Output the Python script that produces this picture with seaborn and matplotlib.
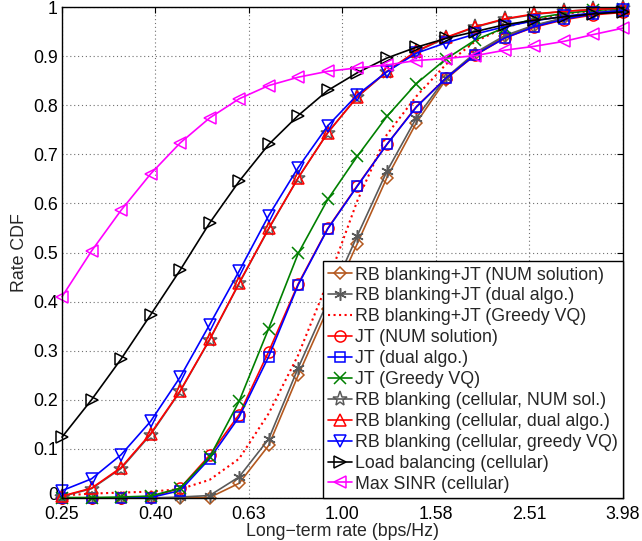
import numpy as np
import pandas as pd
import matplotlib
matplotlib.use("Agg")
import matplotlib.pyplot as plt
import matplotlib.transforms as mtransforms
import seaborn as sns

# ---------------- data ----------------
rate = [0.2512, 0.2905, 0.3360, 0.3886, 0.4494, 0.5197, 0.6010, 0.6951, 0.8039, 0.9298,
        1.0755, 1.2439, 1.4385, 1.6638, 1.9243, 2.2253, 2.5736, 2.9764, 3.4423, 3.9811]

rbjt_num = [0.0, 0.0, 0.0, 0.0, 0.0, 0.001, 0.030, 0.107, 0.250, 0.385,
            0.518, 0.652, 0.764, 0.852, 0.905, 0.940, 0.962, 0.977, 0.987, 0.993]
rbjt_dual = [0.0, 0.0, 0.0, 0.0, 0.002, 0.005, 0.043, 0.120, 0.265, 0.400,
             0.534, 0.665, 0.774, 0.856, 0.907, 0.942, 0.963, 0.978, 0.988, 0.994]
rbjt_greedy = [0.005, 0.009, 0.011, 0.013, 0.018, 0.037, 0.080, 0.172, 0.291, 0.440,
               0.605, 0.740, 0.818, 0.883, 0.930, 0.958, 0.975, 0.986, 0.992, 0.996]
jt_num = [0.0, 0.0, 0.0, 0.002, 0.020, 0.087, 0.170, 0.298, 0.436, 0.549,
          0.636, 0.720, 0.797, 0.855, 0.902, 0.937, 0.959, 0.974, 0.984, 0.989]
jt_dual = [0.0, 0.0, 0.0, 0.001, 0.015, 0.080, 0.165, 0.288, 0.434, 0.548,
           0.635, 0.720, 0.796, 0.855, 0.903, 0.937, 0.960, 0.975, 0.986, 0.992]
jt_greedy = [0.001, 0.001, 0.002, 0.004, 0.020, 0.083, 0.197, 0.345, 0.498, 0.608,
             0.696, 0.777, 0.844, 0.894, 0.933, 0.958, 0.977, 0.987, 0.993, 0.996]
rb_num = [0.003, 0.019, 0.060, 0.129, 0.217, 0.322, 0.437, 0.548, 0.652, 0.744,
          0.817, 0.868, 0.909, 0.937, 0.959, 0.975, 0.985, 0.991, 0.995, 0.998]
rb_dual = [0.004, 0.020, 0.062, 0.131, 0.218, 0.323, 0.438, 0.549, 0.652, 0.744,
           0.817, 0.869, 0.910, 0.938, 0.960, 0.976, 0.986, 0.991, 0.995, 0.998]
rb_greedy = [0.015, 0.039, 0.088, 0.156, 0.246, 0.353, 0.462, 0.575, 0.673, 0.758,
             0.821, 0.868, 0.906, 0.927, 0.945, 0.960, 0.972, 0.981, 0.988, 0.993]
load_bal = [0.124, 0.200, 0.283, 0.373, 0.464, 0.560, 0.645, 0.720, 0.779, 0.830,
            0.866, 0.896, 0.918, 0.936, 0.950, 0.964, 0.973, 0.980, 0.986, 0.990]
max_sinr = [0.410, 0.503, 0.586, 0.660, 0.723, 0.774, 0.813, 0.840, 0.857, 0.869,
            0.876, 0.882, 0.891, 0.895, 0.901, 0.912, 0.920, 0.930, 0.944, 0.957]

labels = ["RB blanking+JT (NUM solution)", "RB blanking+JT (dual algo.)",
          "RB blanking+JT (Greedy VQ)", "JT (NUM solution)", "JT (dual algo.)",
          "JT (Greedy VQ)", "RB blanking (cellular, NUM sol.)",
          "RB blanking (cellular, dual algo.)", "RB blanking (cellular, greedy VQ)",
          "Load balancing (cellular)", "Max SINR (cellular)"]
series = [rbjt_num, rbjt_dual, rbjt_greedy, jt_num, jt_dual, jt_greedy,
          rb_num, rb_dual, rb_greedy, load_bal, max_sinr]

xtick_vals = [0.2512, 0.3981, 0.6310, 1.0, 1.5849, 2.5119, 3.9811]
xtick_labels = ["0.25", "0.40", "0.63", "1.00", "1.58", "2.51", "3.98"]
ytick_vals = [0, 0.1, 0.2, 0.3, 0.4, 0.5, 0.6, 0.7, 0.8, 0.9, 1.0]
ytick_labels = ["0", "0.1", "0.2", "0.3", "0.4", "0.5", "0.6", "0.7", "0.8", "0.9", "1"]

# ---------------- styles ----------------
styles = [
    dict(color="#b4581e", marker="D", ms=6.5, ls="-"),
    dict(color="#5a5a5a", marker=(6, 2, 0), ms=9, ls="-"),
    dict(color="#ff0000", marker=None, ms=0, ls=":"),
    dict(color="#ff0000", marker="o", ms=8, ls="-"),
    dict(color="#0000ff", marker="s", ms=7, ls="-"),
    dict(color="#008000", marker="x", ms=8, ls="-"),
    dict(color="#5a5a5a", marker="*", ms=11, ls="-"),
    dict(color="#ff0000", marker="^", ms=9, ls="-"),
    dict(color="#0000ff", marker="v", ms=9, ls="-"),
    dict(color="#000000", marker=">", ms=9, ls="-"),
    dict(color="#ff00ff", marker="<", ms=9, ls="-"),
]

sns.set_style("white")
plt.rcParams["font.family"] = ["Liberation Sans", "DejaVu Sans"]

fig = plt.figure(figsize=(6.42, 5.41), dpi=100)
ax = fig.add_axes([62 / 642, 1 - 498 / 541, (623 - 62) / 642, (498 - 7) / 541])

for lab, vals, st in zip(labels, series, styles):
    df = pd.DataFrame({"rate": rate, "cdf": vals})
    kw = dict(color=st["color"], linestyle=st["ls"], linewidth=1.2 if st["ls"] == "-" else 1.5,
              label=lab, ax=ax, sort=False, errorbar=None, clip_on=False)
    if st["marker"] is not None:
        kw.update(marker=st["marker"], markersize=st["ms"], markerfacecolor="none",
                  markeredgecolor=st["color"], markeredgewidth=1.1)
    sns.lineplot(data=df, x="rate", y="cdf", **kw)

ax.set_xscale("log")
ax.set_xlim(0.2512, 3.9811)
ax.set_ylim(0, 1)
ax.set_xticks(xtick_vals)
ax.set_xticklabels(xtick_labels)
ax.minorticks_off()
ax.set_yticks(ytick_vals)
ax.set_yticklabels(ytick_labels)
ax.tick_params(direction="in", top=True, right=True, labelsize=12.8, length=4,
               width=0.8, colors="black")
ax.tick_params(axis="x", pad=6)
ax.tick_params(axis="y", pad=3)
for sp in ax.spines.values():
    sp.set_visible(True)
    sp.set_color("black")
    sp.set_linewidth(1.0)
ax.grid(True, linestyle=(0, (1, 2.5)), color="#707070", linewidth=0.8)
ax.set_axisbelow(True)

# nudge the "0" y tick label up a little so it clears the "0.25" label
zero_lbl = ax.yaxis.get_major_ticks()[0].label1
zero_lbl.set_transform(zero_lbl.get_transform() +
                       mtransforms.ScaledTranslation(0, 3 / 72, fig.dpi_scale_trans))

ax.set_xlabel("Long\u2212term rate (bps/Hz)", fontsize=12.8, labelpad=0)
ax.set_ylabel("Rate CDF", fontsize=12.8, labelpad=4)

leg = ax.legend(loc="lower right", fontsize=12.8, frameon=True, fancybox=False,
                edgecolor="black", framealpha=1, borderaxespad=0.0,
                handlelength=1.35, handletextpad=0.15, labelspacing=0.22,
                borderpad=0.3)
leg.get_frame().set_linewidth(1.0)
leg.set_zorder(10)

fig.savefig("out.png", dpi=100)
